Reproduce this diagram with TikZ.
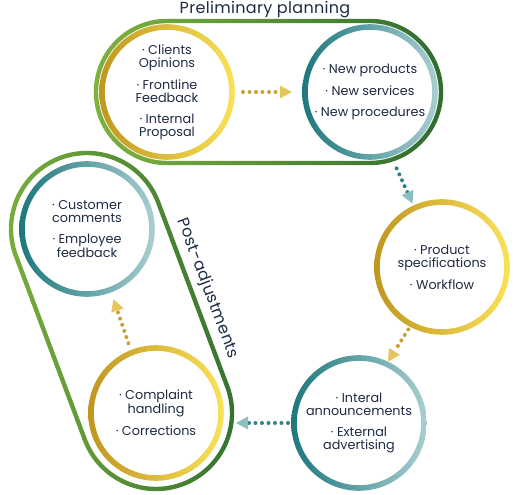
\documentclass[tikz,border=0pt]{standalone}
\usepackage{fontspec}
\setmainfont{Poppins}
\newfontfamily\phasefam[LetterSpace=2]{Poppins}
\usetikzlibrary{arrows.meta,calc}
\definecolor{navy}{HTML}{1E2B45}
\definecolor{golddark}{HTML}{BF9620}
\definecolor{goldlight}{HTML}{FBE25A}
\definecolor{golddot}{HTML}{C9A032}
\definecolor{goldtip}{HTML}{E6C45C}
\definecolor{tealdark}{HTML}{1C777C}
\definecolor{teallight}{HTML}{AACFD2}
\definecolor{tealdot}{HTML}{2A8387}
\definecolor{tealtip}{HTML}{8DBFC2}
\definecolor{greenlight}{HTML}{80B33C}
\definecolor{greendark}{HTML}{2E6C2F}
\newcommand\bubblefont{\fontsize{12.8}{13}\selectfont}
\newcommand\titlefont{\phasefam\fontsize{16}{18}\selectfont}
\newcommand\gring[4]{%
  \begin{scope}[even odd rule]
    \clip (#1.center) circle[radius=#2+2.8] (#1.center) circle[radius=#2-2.8];
    \shade[left color=#3, right color=#4] ($(#1.center)+(-#2-4,-#2-4)$) rectangle ($(#1.center)+(#2+4,#2+4)$);
  \end{scope}}
\newcommand\stadpath[2]{(-#1,-#2) -- (#1,-#2) arc[start angle=-90,end angle=90,radius=#2] -- (-#1,#2) arc[start angle=90,end angle=270,radius=#2] -- cycle}
\tikzset{
  bubble/.style={circle, minimum size=130pt, inner sep=0pt, outer sep=0pt, align=center,
    font=\bubblefont, text=navy, fill=white},
  golddots/.style={draw=golddot, line width=4pt, dash pattern=on 0pt off 6.5pt, line cap=round,
    -{Triangle[length=12pt,width=13pt,line width=0pt,color=goldtip]}},
  tealdots/.style={draw=tealdot, line width=4pt, dash pattern=on 0pt off 6.5pt, line cap=round,
    -{Triangle[length=12pt,width=13pt,line width=0pt,color=tealtip]}},
  phase/.style={font=\titlefont, text=navy, inner sep=0pt}
}
\begin{document}
\begin{tikzpicture}[x=1pt,y=1pt]
\useasboundingbox (0,0) rectangle (515,495);
\fill[white] (0,0) rectangle (515,495);
% stadiums
\begin{scope}[shift={(268.5,403)}, even odd rule]
  \clip \stadpath{101.5}{73.2} \stadpath{101.5}{68.8};
  \shade[left color=greenlight, right color=greendark] (-178,-78) rectangle (178,78);
\end{scope}
\begin{scope}[shift={(121.5,174)}, rotate=-69.44, even odd rule]
  \clip \stadpath{98.25}{78.2} \stadpath{98.25}{73.8};
  \shade[left color=greenlight, right color=greendark] (-180,-82) rectangle (180,82);
\end{scope}
% bubbles
\node[bubble] (c1) at (167,403) {· Clients\\Opinions\\[8pt]· Frontline\\Feedback\\[8pt]· Internal\\Proposal};
\node[bubble] (c2) at (370,403) {· New products\\[8pt]· New services\\[8pt]· New procedures};
\node[bubble] (c3) at (87,266) {· Customer\\comments\\[8pt]· Employee\\feedback};
\node[bubble] (c4) at (156,82) {· Complaint\\handling\\[8pt]· Corrections};
\node[bubble] (c5) at (442,228) {· Product\\specifications\\[8pt]· Workflow};
\node[bubble] (c6) at (359,72) {· Interal\\announcements\\[8pt]· External\\advertising};
\gring{c1}{65}{golddark}{goldlight}
\gring{c2}{65}{tealdark}{teallight}
\gring{c3}{65}{tealdark}{teallight}
\gring{c4}{65}{golddark}{goldlight}
\gring{c5}{65}{golddark}{goldlight}
\gring{c6}{65}{tealdark}{teallight}
% labels
\node[phase] (t1) at (265,485) {Preliminary planning};
\node[phase, rotate=-69.44] (t2) at (207.6,206.2) {Post-adjustments};
% connectors
\draw[golddots, shorten <=11pt, shorten >=13pt] (c1.east) -- (c2.west);
\draw[tealdots, shorten <=16pt, shorten >=5pt] (c2.-72) -- (c5.115);
\draw[golddots, shorten <=6pt, shorten >=3pt] (c5.242) -- (c6.65);
\draw[tealdots, shorten <=6pt, shorten >=15pt] (c6.west) -- (c6.west -| c4.east);
\draw[golddots, shorten <=10pt, shorten >=10pt] (c4.112) -- (c3.-69);
\end{tikzpicture}
\end{document}
